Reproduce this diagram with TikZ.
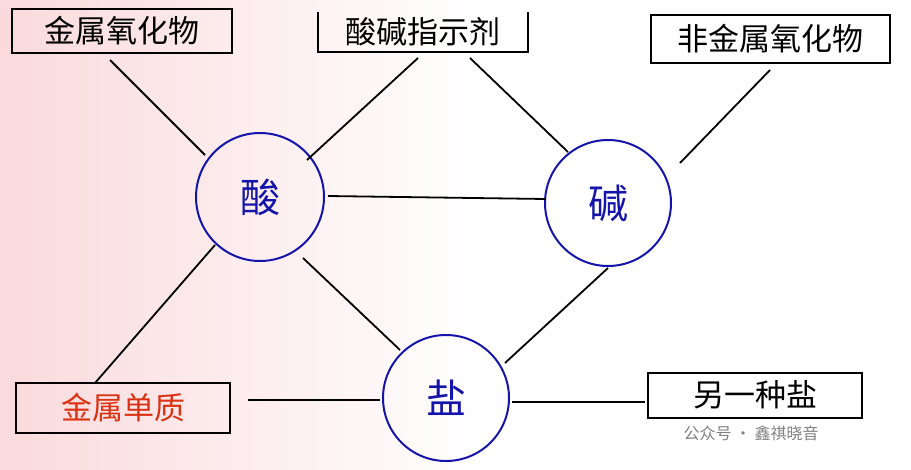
\documentclass[tikz,border=0pt]{standalone}
\usepackage{fontspec}
\newfontfamily\cjk{Noto Sans CJK SC}
\definecolor{cb}{RGB}{20,20,170}
\definecolor{bgp}{RGB}{250,218,220}
\definecolor{redt}{RGB}{220,50,20}
\begin{document}
\begin{tikzpicture}[x=1pt,y=-1pt,
  box/.style={draw=black,line width=2pt,minimum height=44pt,inner sep=0pt,font=\cjk\fontsize{31}{34}\selectfont},
  circ/.style={draw=cb,line width=2pt,circle,minimum size=128pt,inner sep=0pt,text=cb,font=\cjk\fontsize{40}{44}\selectfont},
  conn/.style={line width=1.8pt}]
\fill[white] (0,0) rectangle (911,469);
\shade[left color=bgp,right color=white] (0,0) rectangle (480,469);
\useasboundingbox (0,0) rectangle (911,469);
\node[box,minimum width=220pt] (mo) at (122,31) {金属氧化物};
\node[box,minimum width=210pt,draw=none] (ind) at (423,32) {酸碱指示剂};
\draw[line width=2pt] (318,12) -- (318,52) -- (528,52) -- (528,12);
\node[box,minimum width=239pt,minimum height=48pt] (nmo) at (770,39) {非金属氧化物};
\node[box,minimum width=214pt,minimum height=50pt,text=redt] (met) at (123,408) {金属单质};
\node[box,minimum width=214pt,minimum height=45pt] (os) at (755,395) {另一种盐};
\node[circ] (acid) at (260,197) {酸};
\node[circ,minimum size=126pt] (base) at (608,203) {碱};
\node[circ,minimum size=126pt] (salt) at (446,398) {盐};
\coordinate (c1) at (110,60);
\coordinate (c2) at (418,58);
\coordinate (c3) at (470,58);
\coordinate (c4) at (770,70);
\coordinate (c5) at (95,383);
\coordinate (c6) at (248,400);
\coordinate (c7) at (645,402);
\draw[conn] (c1) -- (205,155);
\draw[conn] (c2) -- (307,160);
\draw[conn] (c3) -- (568,152);
\draw[conn] (c4) -- (680,163);
\draw[conn] (328,196) -- (546,199);
\draw[conn] (215,245) -- (c5);
\draw[conn] (303,258) -- (400,350);
\draw[conn] (608,268) -- (505,363);
\draw[conn] (c6) -- (380,400);
\draw[conn] (512,402) -- (c7);
\node[text=gray,font=\cjk\fontsize{16}{18}\selectfont,anchor=west] (wm) at (680,433) {公众号 · 鑫祺晓音};
\end{tikzpicture}
\end{document}
